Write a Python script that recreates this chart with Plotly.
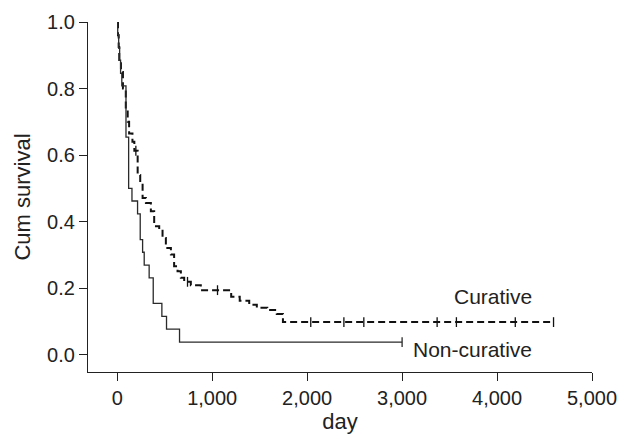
import numpy as np
import plotly.graph_objects as go

# ---- Data ----
noncur_days = [0, 5, 15, 25, 35, 48, 92, 120, 155, 214, 242, 267, 284, 336, 379, 470, 519, 656, 3000]
noncur_surv = [1.0, 0.962, 0.923, 0.885, 0.846, 0.808, 0.654, 0.500, 0.462, 0.423, 0.346, 0.308,
               0.269, 0.231, 0.154, 0.115, 0.077, 0.038, 0.038]
noncur_censor_days = [3000]

cur_days = [0, 8, 15, 21, 39, 60, 90, 110, 125, 160, 180, 215, 242, 267, 302, 354, 389, 442, 477,
            512, 565, 599, 635, 670, 705, 775, 880, 1200, 1290, 1390, 1470, 1580, 1680, 1745, 4595]
cur_surv = [1.0, 0.96, 0.925, 0.886, 0.85, 0.80, 0.74, 0.70, 0.665, 0.64, 0.613, 0.54, 0.515, 0.471,
            0.456, 0.431, 0.386, 0.376, 0.351, 0.321, 0.301, 0.266, 0.251, 0.231, 0.219, 0.209, 0.194,
            0.174, 0.162, 0.150, 0.141, 0.134, 0.122, 0.098, 0.098]
cur_censor_days = [196, 740, 1056, 2038, 2387, 2597, 3369, 3572, 4192, 4595]

x_ticks = [0, 1000, 2000, 3000, 4000, 5000]
y_ticks = [0.0, 0.2, 0.4, 0.6, 0.8, 1.0]


def level_at(days, surv, t):
    idx = np.searchsorted(np.array(days), t, side="right") - 1
    return [surv[i] for i in idx]


FONT = "Liberation Sans, Arial, sans-serif"
fig = go.Figure()

fig.add_trace(go.Scatter(x=cur_days, y=cur_surv, mode="lines", line_shape="hv",
                         line=dict(color="#111111", width=2, dash="7px,4px"),
                         name="Curative", showlegend=False))
fig.add_trace(go.Scatter(x=cur_censor_days, y=level_at(cur_days, cur_surv, cur_censor_days),
                         mode="markers", marker=dict(symbol="line-ns", size=7,
                                                     line=dict(color="#111111", width=1.3)),
                         showlegend=False, cliponaxis=False))
fig.add_trace(go.Scatter(x=noncur_days, y=noncur_surv, mode="lines", line_shape="hv",
                         line=dict(color="#2a2a2a", width=1.3),
                         name="Non-curative", showlegend=False))
fig.add_trace(go.Scatter(x=noncur_censor_days, y=level_at(noncur_days, noncur_surv, noncur_censor_days),
                         mode="markers", marker=dict(symbol="line-ns", size=7,
                                                     line=dict(color="#2a2a2a", width=1.3)),
                         showlegend=False, cliponaxis=False))

fig.add_annotation(x=3961, y=0.174, text="Curative", showarrow=False,
                   font=dict(family=FONT, size=21, color="#222222"), xanchor="center", yanchor="middle")
fig.add_annotation(x=3745, y=0.0165, text="Non-curative", showarrow=False,
                   font=dict(family=FONT, size=21, color="#222222"), xanchor="center", yanchor="middle")

# The page body keeps the browser's default 8px margin, so the figure is sized to fit inside it.
fig.update_layout(
    width=625, height=433,
    margin=dict(l=80, r=41, t=14, b=69),
    paper_bgcolor="white", plot_bgcolor="white",
    font=dict(family=FONT, size=20, color="#222222"),
    xaxis=dict(range=[-308, 5000], tickvals=x_ticks, tickformat=",", showgrid=False, zeroline=False,
               showline=True, linecolor="#222222", linewidth=1.3, ticks="outside", ticklen=8,
               tickcolor="#222222", tickwidth=1.3, automargin=False,
               title=dict(text="day", font=dict(size=22), standoff=0)),
    yaxis=dict(range=[-0.052, 1.0], tickvals=y_ticks, tickformat=".1f", showgrid=False, zeroline=False,
               showline=True, linecolor="#222222", linewidth=1.3, ticks="outside", ticklen=8,
               tickcolor="#222222", tickwidth=1.3, automargin=False,
               title=dict(text="Cum survival", font=dict(size=22), standoff=10)),
)

fig.write_html("out.html")
